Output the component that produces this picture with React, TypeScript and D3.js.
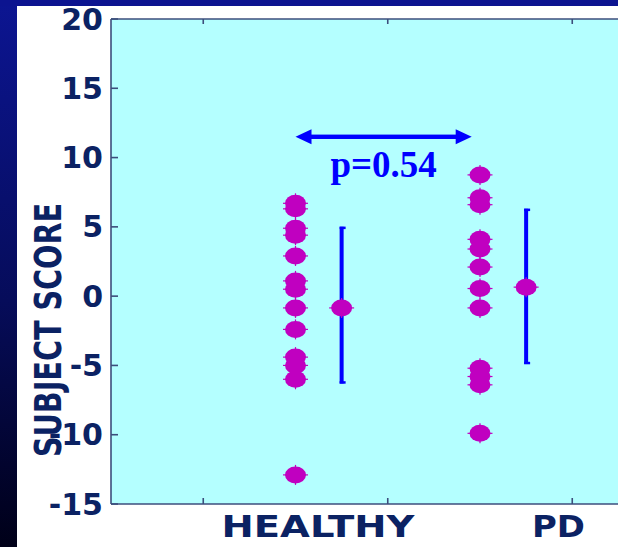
import React from "react";
import * as d3 from "d3";

// values
const healthyScores = [6.7, 6.3, 4.9, 4.4, 2.9, 1.1, 0.5, -0.85, -2.4, -4.4, -5.0, -6.0, -12.9];
const pdScores = [8.75, 7.1, 6.6, 4.1, 3.4, 2.1, 0.55, -0.85, -5.2, -5.8, -6.4, -9.9];
const groupNames = ["HEALTHY", "PD"];
const groupMeans = [-0.85, 0.65];
const barTops = [5.0, 6.3];
const barBottoms = [-6.3, -4.9];
const yTicks = [20, 15, 10, 5, 0, -5, -10, -15];
const xTicks = [1, 2, 3];
const pLabel = "p=0.54";

const W = 618;
const H = 547;
const plot = { left: 111, top: 19, bottom: 504 };

const x = d3.scaleLinear().domain([0.5, 3.5]).range([plot.left, plot.left + 3 * 184.5]);
const y = d3.scaleLinear().domain([-15, 20]).range([plot.bottom, plot.top]);

const navy = "#0b2263";
const magenta = "#c000c0";
const blue = "#0000ff";

const Dot = ({ cx, cy }: { cx: number; cy: number }) => (
  <g>
    <ellipse cx={cx} cy={cy} rx={10.5} ry={8.5} fill={magenta} />
    <g stroke={magenta} strokeWidth={1.2}>
      <line x1={cx - 12.5} x2={cx - 9} y1={cy} y2={cy} />
      <line x1={cx + 9} x2={cx + 12.5} y1={cy} y2={cy} />
      <line x1={cx} x2={cx} y1={cy - 10} y2={cy - 7} />
      <line x1={cx} x2={cx} y1={cy + 7} y2={cy + 10} />
    </g>
  </g>
);

const App = () => {
  const groups = [healthyScores, pdScores];
  const arrowY = y(11.5);
  const ax1 = x(1.5);
  const ax2 = x(2.455);
  const head = 16;
  const half = 7.5;

  return (
    <svg width={W} height={H} style={{ position: "absolute", left: 0, top: 0 }}>
      <defs>
        <linearGradient id="bg" x1="0" y1="0" x2="0" y2="1">
          <stop offset="0%" stopColor="#0c1592" />
          <stop offset="55%" stopColor="#060c5a" />
          <stop offset="100%" stopColor="#000018" />
        </linearGradient>
      </defs>
      <rect width={W} height={H} fill="url(#bg)" />
      <rect x={0} y={0} width={W} height={6} fill="#0c1490" />
      <rect x={17} y={6} width={W - 17} height={H - 6} fill="#ffffff" />

      <rect x={plot.left} y={plot.top} width={W - plot.left} height={plot.bottom - plot.top} fill="#b4ffff" />
      <g stroke="#3c4e7c" strokeWidth={1.6} fill="none">
        <line x1={plot.left} x2={W} y1={plot.top} y2={plot.top} />
        <line x1={plot.left} x2={W} y1={plot.bottom} y2={plot.bottom} />
        <line x1={plot.left} x2={plot.left} y1={plot.top} y2={plot.bottom} />
        {yTicks.map((t) => (
          <line key={"yt" + t} x1={plot.left} x2={plot.left + 7} y1={y(t)} y2={y(t)} />
        ))}
        {xTicks.map((t) => (
          <g key={"xt" + t}>
            <line x1={x(t)} x2={x(t)} y1={plot.top} y2={plot.top + 5} />
            <line x1={x(t)} x2={x(t)} y1={plot.bottom} y2={plot.bottom - 6} />
          </g>
        ))}
      </g>

      <g fontFamily="DejaVu Sans" fontWeight="bold" fontSize={30} fill={navy}>
        {yTicks.map((t) => (
          <text key={"yl" + t} x={103} y={y(t)} textAnchor="end" dominantBaseline="central">
            {t}
          </text>
        ))}
        <text x={318} y={537} textAnchor="middle" textLength={193} lengthAdjust="spacingAndGlyphs">
          {groupNames[0]}
        </text>
        <text x={558.5} y={537} textAnchor="middle" textLength={53} lengthAdjust="spacingAndGlyphs">
          {groupNames[1]}
        </text>
        <text
          transform="translate(61,330) rotate(-90)"
          textAnchor="middle"
          fontSize={38}
          textLength={254}
          lengthAdjust="spacingAndGlyphs"
        >
          SUBJECT SCORE
        </text>
      </g>

      {groups.map((g, i) =>
        g.map((v, j) => <Dot key={`d${i}-${j}`} cx={x(1.5 + i)} cy={y(v)} />)
      )}

      {groupMeans.map((m, i) => {
        const bx = x(1.75 + i);
        return (
          <g key={"m" + i}>
            <line x1={bx} x2={bx} y1={y(barTops[i])} y2={y(barBottoms[i])} stroke={blue} strokeWidth={4} />
            <line x1={bx - 2} x2={bx + 4} y1={y(barTops[i]) + 1} y2={y(barTops[i]) + 1} stroke={blue} strokeWidth={2.5} />
            <line x1={bx - 2} x2={bx + 4} y1={y(barBottoms[i]) - 1} y2={y(barBottoms[i]) - 1} stroke={blue} strokeWidth={2.5} />
            <Dot cx={bx} cy={y(m)} />
          </g>
        );
      })}

      <g fill={blue}>
        <rect x={ax1 + head - 1} y={arrowY - 2.2} width={ax2 - ax1 - 2 * head + 2} height={4.4} />
        <path d={`M${ax1},${arrowY} L${ax1 + head},${arrowY - half} L${ax1 + head},${arrowY + half} Z`} />
        <path d={`M${ax2},${arrowY} L${ax2 - head},${arrowY - half} L${ax2 - head},${arrowY + half} Z`} />
      </g>
      <text
        x={(ax1 + ax2) / 2}
        y={176.5}
        textAnchor="middle"
        fontFamily="Liberation Serif"
        fontWeight="bold"
        fontSize={37}
        fill={blue}
      >
        {pLabel}
      </text>
    </svg>
  );
};

export default App;
